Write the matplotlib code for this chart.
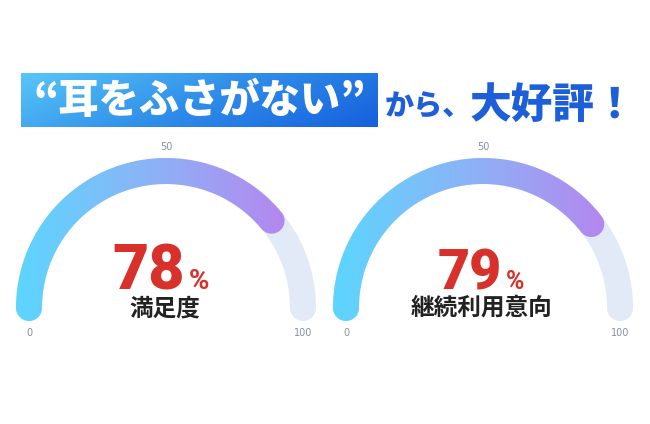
import numpy as np
import matplotlib
matplotlib.use("Agg")
import matplotlib.pyplot as plt
from matplotlib.colors import LinearSegmentedColormap
from matplotlib.path import Path
from matplotlib.patches import PathPatch

plt.rcParams['font.family'] = ['Noto Sans CJK JP', 'DejaVu Sans']

# data
labels = ["満足度", "継続利用意向"]
values = [78, 79]
ticks = [0, 50, 100]
title_box = "“耳をふさがない”"
title_small = "から、"
title_big = "大好評！"

# gauge geometry (pixel coordinates)
centers = [(166, 308), (483, 308)]
R = 137
W = 26

fig = plt.figure(figsize=(6.5, 4.24), dpi=100)
ax = fig.add_axes([0, 0, 1, 1])
ax.set_xlim(0, 650)
ax.set_ylim(424, 0)
ax.axis('off')

grad = LinearSegmentedColormap.from_list("g", ["#5cd6fe", "#8cb3f6", "#b487ef"])
box_grad = LinearSegmentedColormap.from_list("b", ["#58c6f8", "#2f8ee9", "#1660dd"])


def band(cx, cy, r, w, a0, a1, n=200):
    h = w / 2
    a = np.radians(np.linspace(a0, a1, n))
    ox = cx + (r + h) * np.cos(a)
    oy = cy - (r + h) * np.sin(a)
    ex, ey = cx + r * np.cos(a[-1]), cy - r * np.sin(a[-1])
    p = np.radians(np.linspace(a1, a1 - 180, 40))
    c1x = ex + h * np.cos(p)
    c1y = ey - h * np.sin(p)
    ix = cx + (r - h) * np.cos(a[::-1])
    iy = cy - (r - h) * np.sin(a[::-1])
    sx, sy = cx + r * np.cos(a[0]), cy - r * np.sin(a[0])
    p2 = np.radians(np.linspace(a0 + 180, a0, 40))
    c2x = sx + h * np.cos(p2)
    c2y = sy - h * np.sin(p2)
    xs = np.concatenate([ox, c1x, ix, c2x])
    ys = np.concatenate([oy, c1y, iy, c2y])
    return Path(np.column_stack([xs, ys]), closed=False)


for (cx, cy), v, lab in zip(centers, values, labels):
    # background track
    bg = band(cx, cy, R, W, 180, 0)
    ax.add_patch(PathPatch(bg, facecolor="#e3eaf7", edgecolor="none", zorder=1))
    # value arc with gradient
    end = 180 - v / 100 * 180
    fg = band(cx, cy, R, W, 180, end)
    clip = PathPatch(fg, facecolor="none", edgecolor="none")
    ax.add_patch(clip)
    x0 = cx - R - W / 2
    x1 = cx + R * np.cos(np.radians(end)) + W / 2
    im = ax.imshow(np.linspace(0, 1, 256).reshape(1, -1), cmap=grad,
                   extent=(x0, x1, cy + W, cy - R - W), aspect='auto',
                   interpolation='bilinear', zorder=2)
    im.set_clip_path(clip)
    # tick labels
    for t in ticks:
        ang = np.radians(180 - t / 100 * 180)
        if t == 50:
            ax.text(cx, cy - R - W / 2 - 6, str(t), ha='center', va='bottom',
                    fontsize=7, color="#8590a3", family='DejaVu Sans')
        else:
            ax.text(cx + R * np.cos(ang), cy + 25, str(t), ha='center', va='center',
                    fontsize=7, color="#8590a3", family='DejaVu Sans')

# numbers and labels
num_sizes = [45, 40]
pct_sizes = [20, 18]
num_right = [185, 502]
for (cx, cy), v, lab, ns, ps, nr in zip(centers, values, labels, num_sizes, pct_sizes, num_right):
    ax.text(nr, 289, str(v), ha='right', va='baseline', fontsize=ns,
            fontweight='heavy', color="#d8302a", family='Roboto', zorder=3)
    ax.text(nr + 4, 289, "%", ha='left', va='baseline', fontsize=ps,
            fontweight='bold', color="#d8302a", family='Roboto', zorder=3)
    ax.text(cx - 1, 308, lab, ha='center', va='center', fontsize=17,
            fontweight='bold', color="#222222", zorder=3)

# title banner
bx0, bx1, by0, by1 = 21, 378, 73, 127
yy, xx = np.mgrid[0:1:50j, 0:1:300j]
ax.imshow(0.75 * xx + 0.25 * yy, cmap=box_grad, extent=(bx0, bx1, by1, by0),
          aspect='auto', interpolation='bilinear', zorder=1)
ax.text((bx0 + bx1) / 2, 101, title_box, ha='center', va='center', fontsize=29,
        fontweight='black', color="white", zorder=3)
ax.text(385, 115, title_small, ha='left', va='baseline', fontsize=21,
        fontweight='black', color="#1d5fd8")
ax.text(470, 118, title_big, ha='left', va='baseline', fontsize=30,
        fontweight='black', color="#1d5fd8")

ax.set_xlim(0, 650)
ax.set_ylim(424, 0)
fig.savefig("out.png", dpi=100, facecolor="white")
